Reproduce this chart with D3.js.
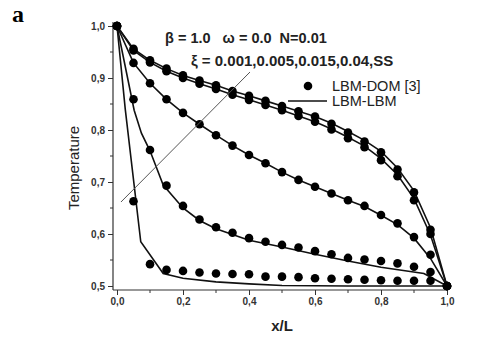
<!DOCTYPE html>
<meta charset="utf-8">
<script src="https://d3js.org/d3.v7.min.js"></script>
<style>
  body { margin: 0; background: #fff; }
  .tick text { font-family: Arial, "Liberation Sans", sans-serif; font-weight: bold; font-size: 10px; fill: #333; }
</style>
<div id="chart"></div>
<script>

// dot positions (LBM-DOM [3]) every 0.05 in x/L
const dotX = d3.range(0, 21).map(i => i * 0.05);
const dots001 = [1.0, 0.663, 0.542, 0.531, 0.529, 0.526, 0.524, 0.523, 0.5225, 0.518, 0.518, 0.517, 0.515, 0.514, 0.513, 0.512, 0.511, 0.510, 0.510, 0.510, 0.5];
const dots005 = [1.0, 0.859, 0.7615, 0.693, 0.654, 0.628, 0.613, 0.6025, 0.592, 0.585, 0.579, 0.574, 0.567, 0.561, 0.554, 0.551, 0.548, 0.5435, 0.537, 0.527, 0.5];
const dots015 = [1.0, 0.929, 0.89, 0.859, 0.833, 0.811, 0.790, 0.770, 0.752, 0.736, 0.719, 0.704, 0.691, 0.678, 0.665, 0.654, 0.6365, 0.6205, 0.594, 0.56, 0.5];
const dots04  = [1.0, 0.953, 0.930, 0.913, 0.900, 0.889, 0.879, 0.868, 0.858, 0.848, 0.838, 0.827, 0.816, 0.801, 0.784, 0.767, 0.742, 0.711, 0.665, 0.600, 0.5];
const dotsSS  = [1.0, 0.956, 0.934, 0.918, 0.905, 0.895, 0.886, 0.875, 0.866, 0.856, 0.846, 0.836, 0.826, 0.812, 0.795, 0.778, 0.757, 0.724, 0.680, 0.608, 0.5];

// LBM-LBM lines
const line001X = [0, 0.025, 0.072, 0.14, 0.2, 0.3, 0.4, 0.5, 0.7, 1.0];
const line001Y = [1.0, 0.84, 0.585, 0.524, 0.515, 0.508, 0.504, 0.501, 0.5, 0.5];
const line005X = [0, 0.052, 0.074, 0.1, 0.14, 0.2, 0.25, 0.3, 0.4, 0.5, 0.6, 0.7, 0.8, 0.93, 1.0];
const line005Y = [1.0, 0.838, 0.794, 0.76, 0.694, 0.65, 0.626, 0.610, 0.588, 0.575, 0.561, 0.548, 0.536, 0.524, 0.5];
const line015Y = [1.0, 0.929, 0.89, 0.859, 0.833, 0.811, 0.790, 0.770, 0.752, 0.736, 0.719, 0.704, 0.691, 0.678, 0.665, 0.653, 0.636, 0.618, 0.592, 0.553, 0.5];
const line04Y  = [1.0, 0.953, 0.930, 0.913, 0.900, 0.889, 0.879, 0.868, 0.858, 0.848, 0.838, 0.827, 0.816, 0.802, 0.786, 0.769, 0.745, 0.714, 0.668, 0.598, 0.5];
const lineSSY  = [1.0, 0.956, 0.934, 0.918, 0.905, 0.895, 0.886, 0.875, 0.866, 0.856, 0.846, 0.836, 0.826, 0.813, 0.797, 0.780, 0.759, 0.727, 0.683, 0.612, 0.5];

const xTicks = [0, 0.2, 0.4, 0.6, 0.8, 1.0];
const xMinor = [0.1, 0.3, 0.5, 0.7, 0.9];
const yTicks = [0.5, 0.6, 0.7, 0.8, 0.9, 1.0];
const yMinor = [0.55, 0.65, 0.75, 0.85, 0.95];

const W = 480, H = 350;
const svg = d3.select("#chart").append("svg")
  .attr("width", W).attr("height", H);

const x = d3.scaleLinear().domain([0, 1]).range([117, 447]);
const y = d3.scaleLinear().domain([0.5, 1]).range([286, 26]);
const fmt = d => d3.format(".1f")(d).replace(".", ",");

// axes
const xAxis = svg.append("g")
  .attr("transform", "translate(0,290)")
  .call(d3.axisBottom(x).tickValues(xTicks).tickFormat(fmt).tickSize(5).tickSizeOuter(0));
xAxis.select(".domain").remove();
xAxis.selectAll(".tick line").attr("stroke", "#333");
svg.append("g").selectAll("line").data(xMinor).join("line")
  .attr("x1", d => x(d)).attr("x2", d => x(d))
  .attr("y1", 290).attr("y2", 293).attr("stroke", "#333");

const yAxis = svg.append("g")
  .attr("transform", "translate(113,0)")
  .call(d3.axisLeft(y).tickValues(yTicks).tickFormat(fmt).tickSize(5).tickSizeOuter(0));
yAxis.select(".domain").remove();
yAxis.selectAll(".tick line").attr("stroke", "#333");
svg.append("g").selectAll("line").data(yMinor).join("line")
  .attr("y1", d => y(d)).attr("y2", d => y(d))
  .attr("x1", 113).attr("x2", 110).attr("stroke", "#333");

svg.append("line").attr("x1", 113).attr("x2", 448).attr("y1", 290).attr("y2", 290)
  .attr("stroke", "#333").attr("stroke-width", 1.2);
svg.append("line").attr("x1", 113).attr("x2", 113).attr("y1", 22).attr("y2", 290)
  .attr("stroke", "#333").attr("stroke-width", 1.2);

// lines
const lineGen = d3.line().x(d => x(d[0])).y(d => y(d[1]));
const lines = [
  d3.zip(line001X, line001Y),
  d3.zip(line005X, line005Y),
  d3.zip(dotX, line015Y),
  d3.zip(dotX, line04Y),
  d3.zip(dotX, lineSSY)
];
svg.append("g").selectAll("path").data(lines).join("path")
  .attr("d", lineGen)
  .attr("fill", "none")
  .attr("stroke", "#111")
  .attr("stroke-width", 1.6);

// dots
const dotSeries = [dots001, dots005, dots015, dots04, dotsSS];
dotSeries.forEach(s => {
  svg.append("g").selectAll("circle").data(d3.zip(dotX, s)).join("circle")
    .attr("cx", d => x(d[0]))
    .attr("cy", d => y(d[1]))
    .attr("r", 4.3)
    .attr("fill", "#000");
});

// annotation pointer line
const pointer = [[0.012, 0.6615], [0.403, 0.9115]];
svg.append("path")
  .attr("d", lineGen(pointer))
  .attr("stroke", "#555").attr("stroke-width", 1).attr("fill", "none");

// texts
const font = "Arial, 'Liberation Sans', sans-serif";
svg.append("text").attr("x", 165).attr("y", 43)
  .style("font-family", font).style("font-weight", "bold").style("font-size", "14.5px")
  .attr("fill", "#222").attr("xml:space", "preserve")
  .text("β = 1.0   ω = 0.0  N=0.01");
svg.append("text").attr("x", 191).attr("y", 66)
  .style("font-family", font).style("font-weight", "bold").style("font-size", "15px")
  .attr("fill", "#222")
  .text("ξ = 0.001,0.005,0.015,0.04,SS");

// legend
svg.append("circle").attr("cx", 308).attr("cy", 86).attr("r", 4.3).attr("fill", "#000");
svg.append("text").attr("x", 332).attr("y", 91)
  .style("font-family", font).style("font-size", "14.5px").attr("fill", "#222")
  .text("LBM-DOM [3]");
svg.append("line").attr("x1", 288).attr("x2", 327).attr("y1", 101).attr("y2", 101)
  .attr("stroke", "#111").attr("stroke-width", 1.6);
svg.append("text").attr("x", 332).attr("y", 106)
  .style("font-family", font).style("font-size", "14.5px").attr("fill", "#222")
  .text("LBM-LBM");

// axis titles
svg.append("text")
  .attr("transform", "translate(79,168) rotate(-90)")
  .attr("text-anchor", "middle")
  .style("font-family", font).style("font-size", "15px").attr("fill", "#222")
  .text("Temperature");
svg.append("text").attr("x", 282).attr("y", 331)
  .attr("text-anchor", "middle")
  .style("font-family", font).style("font-weight", "bold").style("font-size", "15px").attr("fill", "#222")
  .text("x/L");

// panel letter
svg.append("text").attr("x", 12).attr("y", 22)
  .style("font-family", "'Liberation Serif', 'DejaVu Serif', serif").style("font-weight", "bold").style("font-size", "24px")
  .attr("fill", "#000")
  .text("a");

</script>
